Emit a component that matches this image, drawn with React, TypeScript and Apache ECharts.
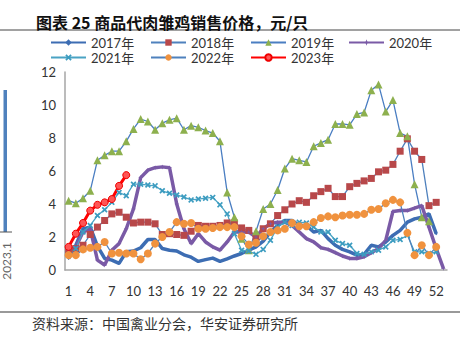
import React, { useEffect, useRef } from "react";
import * as echarts from "echarts";

const weeks: string[] = Array.from({ length: 53 }, (_, i) => String(i + 1));

const y2017 = [0.7, 1.5, 2.5, 2.6, 1.45, 0.7, 0.6, 0.4, 1.1, 1.15, 1.35, 1.85, 1.85, 1.3, 1.2, 1.15, 0.92, 0.78, 0.52, 0.63, 0.72, 0.52, 0.68, 0.85, 1.0, 1.2, 1.4, 1.75, 2.3, 2.7, 3.0, 3.0, 2.7, 2.7, 2.3, 2.4, 1.9, 1.5, 1.25, 1.1, 0.9, 0.95, 1.5, 1.4, 1.7, 2.1, 2.4, 2.9, 3.1, 3.2, 3.4, 2.2];
const y2018 = [1.1, 1.3, 1.5, 2.15, 2.6, 3.0, 3.4, 3.5, 3.2, 2.85, 2.9, 2.9, 2.8, 2.15, 2.2, 2.15, 2.1, 2.35, 2.7, 2.65, 2.65, 2.7, 2.85, 2.85, 2.55, 2.4, 2.0, 2.5, 2.8, 3.3, 3.65, 4.0, 4.2, 4.1, 4.5, 4.75, 4.95, 4.45, 4.45, 5.05, 5.25, 5.4, 5.55, 5.95, 6.05, 6.4, 7.2, 7.95, 7.2, 6.7, 3.9, 4.1];
const y2019 = [4.2, 4.05, 4.35, 4.8, 6.65, 6.95, 7.2, 7.2, 7.8, 8.55, 9.15, 9.0, 8.5, 8.9, 9.1, 9.2, 8.5, 8.75, 8.65, 8.45, 8.3, 7.8, 4.7, 3.2, 1.9, 1.2, 2.35, 3.7, 4.0, 4.85, 6.15, 6.75, 6.65, 6.55, 7.5, 7.7, 7.9, 8.85, 8.85, 8.8, 9.45, 9.55, 10.9, 11.25, 9.6, 10.3, 8.3, 8.1, 5.2, 3.2, 2.95];
const y2020 = [1.2, 1.4, 2.3, 2.5, 0.6, 0.3, 1.2, 1.6, 2.5, 3.7, 5.6, 6.05, 6.2, 6.25, 6.2, 4.0, 2.5, 1.6, 2.2, 1.7, 1.4, 1.2, 1.7, 2.3, 2.3, 2.3, 2.0, 2.5, 2.8, 2.9, 2.9, 2.7, 2.3, 1.9, 1.7, 1.35, 1.25, 1.05, 0.85, 0.7, 0.7, 0.8, 1.05, 1.3, 1.8, 3.55, 3.6, 3.6, 3.75, 3.9, 2.6, 1.3, 0.1];
const y2021 = [0.9, 1.3, 2.3, 2.7, 3.3, 3.65, 4.1, 4.7, 4.5, 5.2, 5.2, 5.15, 5.1, 4.8, 4.65, 4.55, 4.42, 4.25, 4.3, 4.35, 4.4, 3.95, 3.4, 2.2, 1.2, 1.15, 0.95, 1.25, 1.8, 2.6, 2.9, 2.7, 2.9, 2.85, 2.6, 2.3, 2.3, 1.8, 1.6, 1.5, 1.0, 0.95, 1.1, 1.2, 1.4, 1.8, 1.85, 2.1, 1.1, 1.1, 1.0, 1.1];
const y2022 = [0.9, 0.9, 1.25, 1.35, 1.4, 1.7, 1.0, 1.05, 1.0, 1.0, 0.65, 1.0, 1.6, 2.0, 2.3, 2.9, 2.8, 2.85, 2.5, 2.5, 2.55, 2.6, 2.6, 2.6, 2.05, 1.55, 1.65, 2.05, 2.3, 2.4, 2.5, 2.85, 2.65, 2.65, 2.9, 3.15, 3.25, 3.2, 3.3, 3.35, 3.35, 3.4, 3.65, 3.7, 4.05, 4.25, 4.1, 2.25, 0.9, 1.5, 0.9, 1.4];
const y2023 = [1.4, 2.2, 2.85, 3.6, 3.95, 4.1, 4.3, 5.1, 5.75];

const seriesNames = ["2017年", "2018年", "2019年", "2020年", "2021年", "2022年", "2023年"];

const FONT = "Lato, 'Noto Sans CJK SC', sans-serif";
const XMARK = "path://M2,0 L5,3 L8,0 L10,2 L7,5 L10,8 L8,10 L5,7 L2,10 L0,8 L3,5 L0,2 Z";
const STAR = "path://M5,0 L6.2,3.8 L10,5 L6.2,6.2 L5,10 L3.8,6.2 L0,5 L3.8,3.8 Z";

export default function App() {
  const ref = useRef<HTMLDivElement>(null);
  useEffect(() => {
    document.body.style.margin = "0";
    if (!ref.current) return;
    const chart = echarts.init(ref.current, null, { renderer: "svg" });
    const legendPos = [
      [50, 36], [150, 36], [250, 36], [348, 36],
      [50, 51], [150, 51], [250, 51],
    ];
    const mk = (name: string, data: (number | null)[], o: any) => ({
      name,
      type: "line",
      data,
      showAllSymbol: true,
      ...o,
    });
    chart.setOption({
      animation: false,
      textStyle: { fontFamily: FONT },
      title: {
        text: "图表 25 商品代肉雏鸡销售价格，元/只",
        left: 31,
        top: 9,
        textStyle: { fontSize: 16, fontWeight: "bold", color: "#111", fontFamily: "'Noto Sans CJK SC', sans-serif" },
      },
      legend: seriesNames.map((n, i) => ({
        data: [n],
        left: legendPos[i][0],
        top: legendPos[i][1],
        itemWidth: 35,
        itemHeight: 8,
        itemGap: 0,
        padding: 0,
        textStyle: { fontSize: 13, lineHeight: 13, color: "#333", fontFamily: FONT },
      })),
      grid: { left: 65, right: 20, top: 72, height: 198, containLabel: false },
      xAxis: {
        type: "category",
        data: weeks,
        boundaryGap: true,
        axisLine: { lineStyle: { color: "#a6a6a6", width: 1.5 } },
        axisTick: { show: false },
        axisLabel: { interval: 2, color: "#333", fontSize: 13, margin: 14, fontFamily: FONT },
      },
      yAxis: {
        type: "value",
        min: 0,
        max: 12,
        interval: 2,
        splitLine: { show: false },
        axisLine: { show: true, lineStyle: { color: "#a6a6a6", width: 1.5 } },
        axisTick: { show: false },
        axisLabel: { color: "#333", fontSize: 13, margin: 9, fontFamily: FONT },
      },
      series: [
        mk(seriesNames[0], y2017, {
          symbol: "diamond", symbolSize: 3,
          lineStyle: { color: "#3d6db3", width: 3.5 },
          itemStyle: { color: "#3d6db3" },
        }),
        mk(seriesNames[1], y2018, {
          symbol: "rect", symbolSize: 7,
          lineStyle: { color: "#4f81bd", width: 1.3 },
          itemStyle: { color: "#b8484a" },
        }),
        mk(seriesNames[2], y2019, {
          symbol: "triangle", symbolSize: 8,
          lineStyle: { color: "#4a7ec2", width: 1.3 },
          itemStyle: { color: "#8db04e" },
        }),
        mk(seriesNames[3], y2020, {
          symbol: STAR, symbolSize: 5,
          lineStyle: { color: "#7a5aa6", width: 3.5 },
          itemStyle: { color: "#7a5aa6" },
        }),
        mk(seriesNames[4], y2021, {
          symbol: XMARK, symbolSize: 6,
          lineStyle: { color: "#4aa3c4", width: 1.3 },
          itemStyle: { color: "#3c9cc0" },
        }),
        mk(seriesNames[5], y2022, {
          symbol: "circle", symbolSize: 8,
          lineStyle: { color: "#4f81bd", width: 1.3 },
          itemStyle: { color: "#f0923e" },
        }),
        mk(seriesNames[6], y2023, {
          symbol: "circle", symbolSize: 7,
          lineStyle: { color: "#ff0000", width: 3 },
          itemStyle: { color: "#f55", borderColor: "#e00", borderWidth: 1 },
        }),
      ],
      graphic: [
        { type: "line", shape: { x1: 0, y1: 30, x2: 460, y2: 30 }, style: { stroke: "#444", lineWidth: 1 } },
        { type: "line", shape: { x1: 0, y1: 312, x2: 460, y2: 312 }, style: { stroke: "#777", lineWidth: 1.5 } },
        { type: "rect", shape: { x: 3.5, y: 90, width: 3.5, height: 142 }, style: { fill: "#4f81bd" } },
        { type: "line", shape: { x1: 0, y1: 232, x2: 12, y2: 232 }, style: { stroke: "#555", lineWidth: 1 } },
        {
          type: "text", x: 6.5, y: 261, rotation: Math.PI / 2,
          style: { text: "2023.1", fontSize: 12, fill: "#666", align: "center", verticalAlign: "middle", fontFamily: FONT },
        },
        {
          type: "text", x: 32, y: 323,
          style: { text: "资料来源：中国禽业分会，华安证券研究所", fontSize: 14, fill: "#333", verticalAlign: "middle", fontFamily: "'Noto Sans CJK SC', sans-serif" },
        },
      ],
    });
    return () => chart.dispose();
  }, []);
  return <div ref={ref} style={{ width: 467, height: 340 }} />;
}
